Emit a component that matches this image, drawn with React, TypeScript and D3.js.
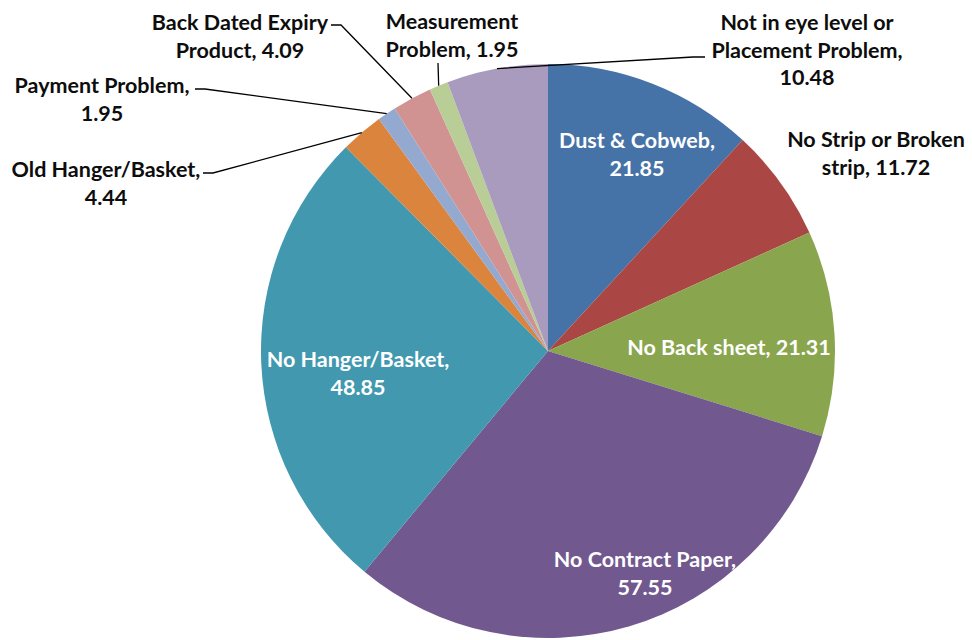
import React from 'react';
import * as d3 from 'd3';

const categories = [
  'Dust & Cobweb',
  'No Strip or Broken strip',
  'No Back sheet',
  'No Contract Paper',
  'No Hanger/Basket',
  'Old Hanger/Basket',
  'Payment Problem',
  'Back Dated Expiry Product',
  'Measurement Problem',
  'Not in eye level or Placement Problem',
];
const values = [21.85, 11.72, 21.31, 57.55, 48.85, 4.44, 1.95, 4.09, 1.95, 10.48];
const colors = ['#4572A7', '#AA4643', '#89A54E', '#71588F', '#4198AF', '#DB843D', '#93A9CF', '#D19392', '#B9CD96', '#A99BBD'];
// words per line of each label
const lineBreaks = [[3, 1], [4, 2], [4], [3, 1], [2, 1], [2, 1], [2, 1], [3, 2], [1, 2], [5, 2, 1]];
const inside = [true, false, true, true, true, false, false, false, false, false];

// layout (label anchor: centre x, first baseline y), leader start
const labelPos = [
  { x: 637, y: 148 },
  { x: 876, y: 147 },
  { x: 729, y: 355 },
  { x: 645, y: 567 },
  { x: 358, y: 367 },
  { x: 106, y: 177 },
  { x: 102, y: 93 },
  { x: 240, y: 30 },
  { x: 452, y: 29 },
  { x: 807, y: 30 },
];
const leaderStart: ({ x: number; y: number; dx: number } | null)[] = [
  null, null, null, null, null,
  { x: 203, y: 173, dx: 10 },
  { x: 195, y: 89, dx: 10 },
  { x: 331, y: 25, dx: 10 },
  { x: 438, y: 63, dx: 0 },
  { x: 705, y: 57, dx: -12 },
];

const W = 972, H = 640;
const CX = 548, CY = 351, R = 287;
const FONT = 'Lato, sans-serif';
const FS = 21.5;
const LH = 27.5;

export default function App() {
  const pie = d3.pie<number>().sort(null).value((d) => d).startAngle(0).endAngle(2 * Math.PI);
  const arcs = pie(values);
  const arcGen = d3.arc<d3.PieArcDatum<number>>().innerRadius(0).outerRadius(R);

  return (
    <svg width={W} height={H} style={{ position: 'absolute', left: 0, top: 0, background: '#fff' }}>
      <g transform={`translate(${CX},${CY})`}>
        {arcs.map((a, i) => (
          <path key={i} d={arcGen(a) || ''} fill={colors[i]} />
        ))}
      </g>
      {arcs.map((a, i) => {
        const ls = leaderStart[i];
        if (!ls) return null;
        const mid = (a.startAngle + a.endAngle) / 2;
        const px = CX + R * Math.sin(mid);
        const py = CY - R * Math.cos(mid);
        const pts: [number, number][] = [[ls.x, ls.y], [ls.x + ls.dx, ls.y], [px, py]];
        return <path key={'l' + i} d={d3.line()(pts) || ''} fill="none" stroke="#000" strokeWidth={1.3} />;
      })}
      {categories.map((c, i) => {
        const words = `${c}, ${values[i].toFixed(2)}`.split(' ');
        const lines: string[] = [];
        let k = 0;
        lineBreaks[i].forEach((n) => {
          lines.push(words.slice(k, k + n).join(' '));
          k += n;
        });
        return (
          <text key={'t' + i} x={labelPos[i].x} y={labelPos[i].y} textAnchor="middle" fontFamily={FONT} fontWeight="bold" fontSize={FS} fill={inside[i] ? '#fff' : '#0d0d0d'}>
            {lines.map((ln, j) => (
              <tspan key={j} x={labelPos[i].x} y={labelPos[i].y + j * LH}>{ln}</tspan>
            ))}
          </text>
        );
      })}
    </svg>
  );
}
